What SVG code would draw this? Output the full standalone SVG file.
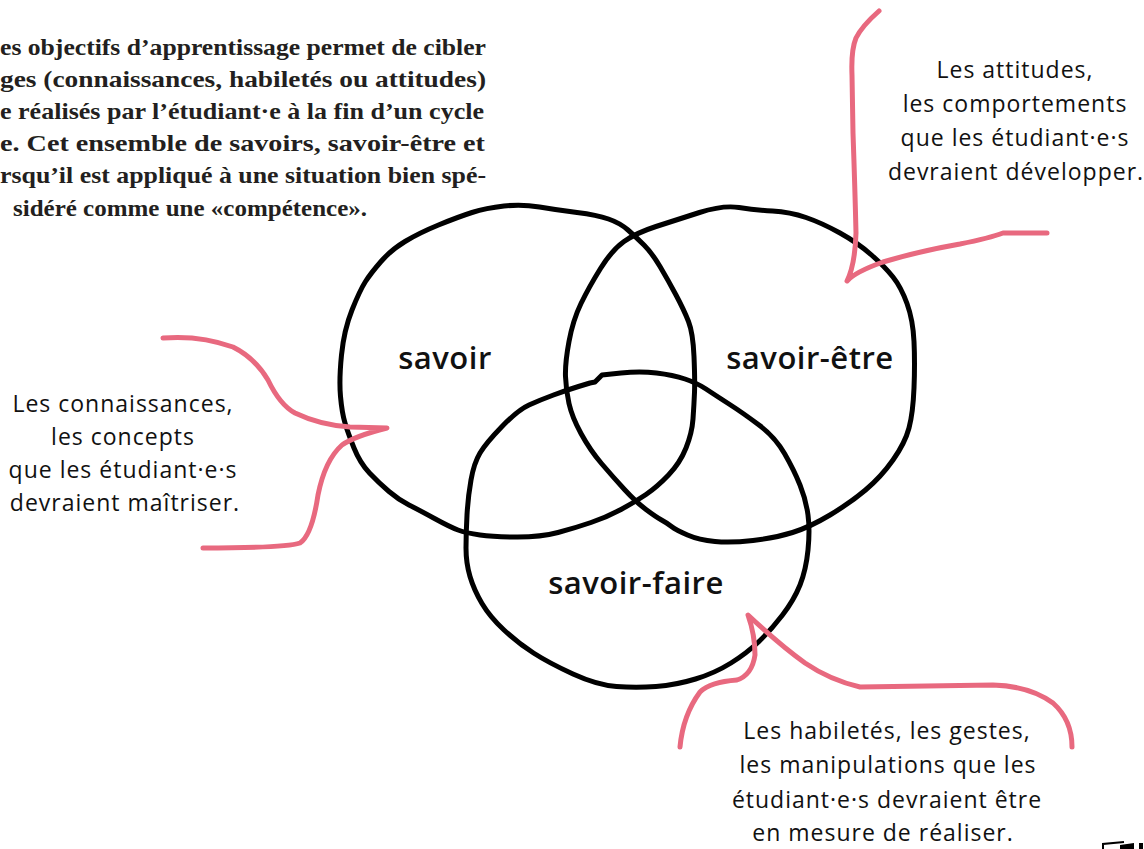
<svg xmlns="http://www.w3.org/2000/svg" width="1144" height="849" viewBox="0 0 1144 849">
<style>
.para{font-family:"Liberation Serif","DejaVu Serif",serif;font-weight:bold;font-size:23px;fill:#231f20}
.hand{font-family:"Open Sans","DejaVu Sans",sans-serif;font-size:23px;letter-spacing:1px;fill:#111;text-anchor:middle}
.lbl{font-family:"Open Sans","DejaVu Sans",sans-serif;font-size:31px;font-weight:600;fill:#111;text-anchor:middle;letter-spacing:0.5px}
.ring{fill:none;stroke:#000;stroke-width:5;stroke-linejoin:round;stroke-linecap:round}
.pink{fill:none;stroke:#e8697f;stroke-width:5;stroke-linejoin:round;stroke-linecap:round}
</style>
<rect width="1144" height="849" fill="#fff"/>
<g id="paragraph" class="para">
<text x="0" y="55" textLength="486" lengthAdjust="spacingAndGlyphs">es objectifs d’apprentissage permet de cibler</text>
<text x="0" y="87" textLength="486" lengthAdjust="spacingAndGlyphs">ges (connaissances, habiletés ou attitudes)</text>
<text x="0" y="119" textLength="484" lengthAdjust="spacingAndGlyphs">e réalisés par l’étudiant·e à la fin d’un cycle</text>
<text x="0" y="151" textLength="485" lengthAdjust="spacingAndGlyphs">e. Cet ensemble de savoirs, savoir-être et</text>
<text x="0" y="183" textLength="486" lengthAdjust="spacingAndGlyphs">rsqu’il est appliqué à une situation bien spé-</text>
<text x="13" y="216" textLength="354" lengthAdjust="spacingAndGlyphs">sidéré comme une «compétence».</text>
</g>
<g id="savoir">
<path class="ring" d="M340.5,396.5 Q339,380 341.5,355 Q344,330 352,310 Q360,290 365.5,281.5 Q371,273 381,261.5 Q391,250 405,241.5 Q419,233 438.5,225 Q458,217 472,212.5 Q486,208 504,206 Q522,204 539.5,207 Q557,210 577,212.5 Q597,215 608.5,219 Q620,223 628,230 Q636,237 644,245 Q652,253 660,266.5 Q668,280 676,295 Q684,310 688.5,321.5 Q693,333 694,356.5 Q695,380 694.5,392.5 Q694,405 693,419 Q692,433 686,448 Q680,463 668.5,475 Q657,487 646,494.5 Q635,502 621,509.5 Q607,517 591,522.5 Q575,528 558,532.5 Q541,537 517.5,537 Q494,537 480,535 Q466,533 458,530 Q450,527 434.5,518.5 Q419,510 409,505 Q399,500 389,491.5 Q379,483 369.5,473 Q360,463 354,448 Q348,433 345,423 Q342,413 340.5,396.5 Z"/>
<text class="lbl" x="445" y="369">savoir</text>
</g>
<g id="savoir-etre">
<path class="ring" d="M565.5,376.5 Q565,363 569,341.5 Q573,320 581,303.5 Q589,287 600.5,268.5 Q612,250 624,241.5 Q636,233 656,226.5 Q676,220 699.5,212.5 Q723,205 739,207.5 Q755,210 772.5,211 Q790,212 806,217.5 Q822,223 840,233 Q858,243 871.5,255 Q885,267 893,277 Q901,287 907,303.5 Q913,320 914,341.5 Q915,363 914,388 Q913,413 909,428 Q905,443 893,460 Q881,477 865.5,490 Q850,503 830,515 Q810,527 792.5,532.5 Q775,538 753,540.5 Q731,543 715,541.5 Q699,540 687.5,535 Q676,530 671.5,526.5 Q667,523 661.5,520 Q656,517 646,509.5 Q636,502 624.5,489.5 Q613,477 601.5,463.5 Q590,450 581,433.5 Q572,417 569,403.5 Q566,390 565.5,376.5 Z"/>
<text class="lbl" x="810" y="369">savoir-être</text>
</g>
<g id="savoir-faire">
<path class="ring" d="M466,548 Q466,533 467,515 Q468,497 471,480 Q474,463 480,453 Q486,443 502,426.5 Q518,410 529,405 Q540,400 553.5,395 Q567,390 578.5,386.5 L590,383 L595,382 L602,375 L621,373 Q640,371 656.5,373 Q673,375 685,379 Q697,383 706,389 Q715,395 729,404 Q743,413 759,425 Q775,437 784.5,453.5 Q794,470 800,485 Q806,500 808,515 Q810,530 808,550 Q806,570 800,585 Q794,600 782.5,615 Q771,630 759,641.5 Q747,653 731,663 Q715,673 695.5,679 Q676,685 656,686.5 Q636,688 616.5,686.5 Q597,685 573,674 Q549,663 533.5,653 Q518,643 504,630 Q490,617 482,603.5 Q474,590 470,576.5 Q466,563 466,548 Z"/>
<text class="lbl" x="636" y="594">savoir-faire</text>
</g>
<g id="callout-savoir" class="hand">
<text x="123" y="412">Les connaissances,</text>
<text x="123" y="445">les concepts</text>
<text x="123" y="478">que les étudiant·e·s</text>
<text x="125" y="511">devraient maîtriser.</text>
</g>
<g id="callout-savoir-etre" class="hand">
<text x="1015" y="78">Les attitudes,</text>
<text x="1015" y="112">les comportements</text>
<text x="1015" y="146">que les étudiant·e·s</text>
<text x="1016" y="180">devraient développer.</text>
</g>
<g id="callout-savoir-faire" class="hand">
<text x="887" y="739">Les habiletés, les gestes,</text>
<text x="888" y="773">les manipulations que les</text>
<text x="887" y="808">étudiant·e·s devraient être</text>
<text x="883" y="841">en mesure de réaliser.</text>
</g>
<g id="connectors">
<path class="pink" d="M879,11 Q862,26 856,38 Q851,50 852,75 L853,133 Q855,190 856,233 Q855,265 847,281 Q855,272 883,262 Q920,251 960,244 Q990,238 1003,233 L1047,233"/>
<path class="pink" d="M163,338 Q200,335 233,347 Q255,358 268,380 Q280,405 295,413 Q320,425 350,427 L387,428 Q355,436 342,445 Q325,460 318,495 Q312,535 300,543 Q285,548 203,548"/>
<path class="pink" d="M680,747 Q683,715 700,692 Q710,682 737,680 Q752,675 755,655 Q755,635 748,615 Q780,645 805,663 Q830,680 860,687 L993,685 Q1030,686 1053,703 Q1072,720 1072,747"/>
</g>
<g id="corner-fragment">
<path d="M1103,849 L1103,844 L1124,842" fill="none" stroke="#000" stroke-width="2"/>
<polygon points="1120,845 1134,843 1134,849 1120,849" fill="#000"/>
<rect x="1139" y="843" width="4" height="6" fill="#000"/>
</g>
</svg>
